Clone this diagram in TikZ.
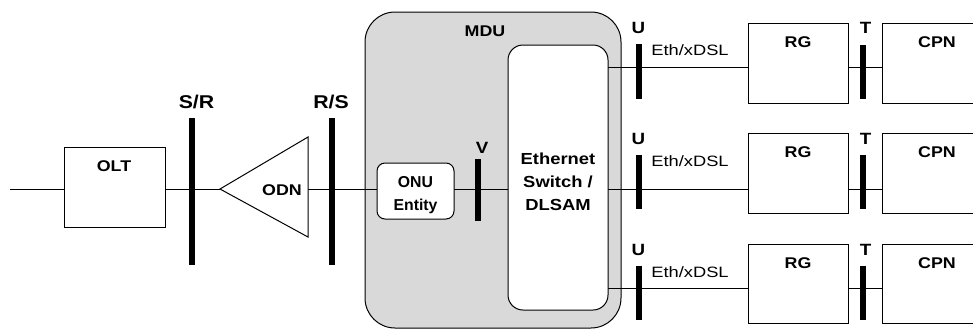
\documentclass[tikz,border=0pt]{standalone}
\usepackage{fontspec}
\setmainfont{Liberation Sans}[FakeStretch=1.15]
\newfontfamily\ethfont{Liberation Sans}[FakeStretch=1.22]
\newfontfamily\plainfont{Liberation Sans}
\definecolor{mdugray}{HTML}{D9D9D9}
\begin{document}
\begin{tikzpicture}[x=1pt,y=-1pt,
  thin line/.style={line width=1pt},
  box/.style={draw, line width=1pt, fill=white, inner sep=0pt},
  barnode/.style={fill=black, inner sep=0pt, minimum width=5.8pt},
  lbl/.style={font=\bfseries\fontsize{15.5}{18}\selectfont, inner sep=0pt, anchor=base},
  portlbl/.style={font=\bfseries\fontsize{18.5}{20}\selectfont, inner sep=0pt, anchor=base},
  ptlbl/.style={font=\bfseries\fontsize{16.3}{18}\selectfont, inner sep=0pt, anchor=base},
  ethlbl/.style={font=\ethfont\fontsize{15}{18}\selectfont, inner sep=0pt, anchor=base},
]
\clip (0,0) rectangle (973,330);
\fill[white] (0,0) rectangle (973,330);

% MDU enclosure
\node[draw, line width=1pt, fill=mdugray, rounded corners=30pt, minimum width=256pt, minimum height=316pt, inner sep=0pt] (mdu) at (493,170) {};
\node[lbl] (mdulbl) at (485,36) {MDU};

% coordinates for line ends
\coordinate (in) at (10,189);
\coordinate (odnA) at (220,189);
\coordinate (odnT) at (308,137);
\coordinate (odnB) at (308,237);
\coordinate (odnR) at (308,189);
\coordinate (l1) at (608,67);
\coordinate (l2) at (608,189);
\coordinate (l3) at (608,288);

% boxes
\node[box, minimum width=101pt, minimum height=80pt] (olt) at (114.5,187) {};
\node[box, minimum width=100pt, minimum height=80pt] (rg1) at (798,63) {};
\node[box, minimum width=100pt, minimum height=80pt] (rg2) at (798,173) {};
\node[box, minimum width=100pt, minimum height=79pt] (rg3) at (798,283.5) {};
\node[box, minimum width=118pt, minimum height=80pt] (cpn1) at (941,63) {};
\node[box, minimum width=118pt, minimum height=80pt] (cpn2) at (941,173) {};
\node[box, minimum width=118pt, minimum height=79pt] (cpn3) at (941,283.5) {};

% connectors
\draw[thin line] (in) -- (in -| olt.west);
\draw[thin line] (olt.east |- odnA) -- (odnA);
\draw[thin line] (odnR) -- (415.5,189);
\draw[thin line] (415.5,189) -- (558,189);
\draw[thin line] (l1) -- (l1 -| rg1.west);
\draw[thin line] (l2) -- (l2 -| rg2.west);
\draw[thin line] (l3) -- (l3 -| rg3.west);
\draw[thin line] (rg1.east |- l1) -- (l1 -| cpn1.west);
\draw[thin line] (rg2.east |- l2) -- (l2 -| cpn2.west);
\draw[thin line] (rg3.east |- l3) -- (l3 -| cpn3.west);

% ODN triangle
\draw[thin line, fill=white, line join=miter] (odnA) -- (odnT) -- (odnB) -- cycle;
\node[lbl] (odnlbl) at (282,195) {ODN};

% inner boxes
\node[box, rounded corners=15pt, minimum width=100pt, minimum height=265pt] (sw) at (558,177.5) {};
\node[box, rounded corners=8pt, minimum width=77pt, minimum height=56pt] (onu) at (415.5,191) {};

\node[font=\bfseries\fontsize{16}{22.7}\selectfont, align=center, inner sep=0pt, anchor=base] (swlbl) at (558,210) {Ethernet\\Switch /\\DLSAM};
\node[font=\plainfont\bfseries\fontsize{15.8}{23}\selectfont, align=center, inner sep=0pt, anchor=base] (onulbl) at (415.5,210) {ONU\\Entity};

% box labels
\node[lbl] (oltlbl) at (114,171.7) {OLT};
\node[lbl] (rg1lbl) at (798,47.3) {RG};
\node[lbl] (rg2lbl) at (798,157.5) {RG};
\node[lbl] (rg3lbl) at (798,268) {RG};
\node[lbl] (cpn1lbl) at (937,47.3) {CPN};
\node[lbl] (cpn2lbl) at (937,157.5) {CPN};
\node[lbl] (cpn3lbl) at (937,268) {CPN};

% reference point bars
\node[barnode, minimum height=147pt] (sr) at (192,191.5) {};
\node[barnode, minimum height=147pt] (rs) at (332,191.5) {};
\node[barnode, minimum height=62pt] (v) at (478,190) {};
\node[barnode, minimum height=55pt] (u1) at (639,71.5) {};
\node[barnode, minimum height=54pt] (u2) at (639,182) {};
\node[barnode, minimum height=54pt] (u3) at (639,293) {};
\node[barnode, minimum height=54pt] (t1) at (863,72) {};
\node[barnode, minimum height=54pt] (t2) at (863,182) {};
\node[barnode, minimum height=54pt] (t3) at (863,293) {};

% reference point labels
\node[portlbl] (srlbl) at (196.5,108.3) {S/R};
\node[portlbl] (rslbl) at (331,108.3) {R/S};
\node[ptlbl] (vlbl) at (482,153) {V};
\node[ptlbl] (u1lbl) at (638.5,33) {U};
\node[ptlbl] (u2lbl) at (638.5,144) {U};
\node[ptlbl] (u3lbl) at (638.5,255) {U};
\node[ptlbl] (t1lbl) at (865.5,33) {T};
\node[ptlbl] (t2lbl) at (865.5,144) {T};
\node[ptlbl] (t3lbl) at (865.5,255) {T};

% interface labels
\node[ethlbl] (e1) at (690,55.7) {Eth/xDSL};
\node[ethlbl] (e2) at (690,166.5) {Eth/xDSL};
\node[ethlbl] (e3) at (690,277) {Eth/xDSL};
\end{tikzpicture}
\end{document}
